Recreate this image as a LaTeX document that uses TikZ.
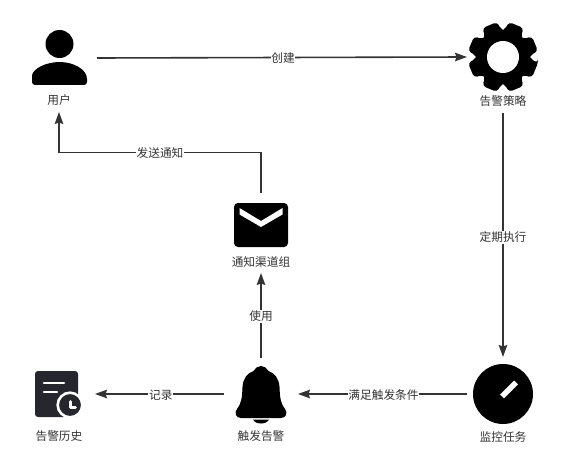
\documentclass[tikz,border=0pt]{standalone}
\usepackage{fontspec}
\setmainfont{Noto Sans CJK SC}
\usetikzlibrary{arrows.meta}
\definecolor{ink}{HTML}{333333}
\definecolor{histcol}{HTML}{26262F}
\tikzset{
  iconbox/.style={inner sep=0pt,outer sep=0pt,minimum width=#1},
  iconbox/.default=72pt,
  caption/.style={inner sep=0pt,outer sep=0pt,text=ink,font=\fontsize{11.7}{14}\selectfont,minimum height=24pt},
  edgetext/.style={fill=white,inner sep=0.6pt,text=ink,yshift=-1pt,font=\fontsize{11.7}{14}\selectfont},
  link/.style={draw=ink,line width=1.6pt,-{Stealth[length=12pt,width=8.5pt,inset=1.5pt]}}
}
\begin{document}
\begin{tikzpicture}[x=1pt,y=-1pt]
\useasboundingbox (0,0) rectangle (579,460);
% icon frames
\node[iconbox=75pt,minimum height=58pt] (user) at (59.5,58) {};
\node[iconbox=72pt,minimum height=72pt] (gear) at (503,57) {};
\node[iconbox=72pt,minimum height=74pt] (monitor) at (503,394) {};
\node[iconbox=74pt,minimum height=72pt] (bell) at (261,394) {};
\node[iconbox=76pt,minimum height=60pt] (hist) at (57,394) {};
\node[iconbox=60pt,minimum height=64pt] (env) at (261,225) {};
% captions
\node[caption] (userlab) at (59,100) {用户};
\node[caption] (gearlab) at (503,101) {告警策略};
\node[caption] (monlab) at (503,437) {监控任务};
\node[caption] (belllab) at (261,436) {触发告警};
\node[caption] (histlab) at (59,436) {告警历史};
\node[caption,minimum height=22pt] (envlab) at (261,262) {通知渠道组};
\coordinate (corner) at (59,152.5);
% connectors
\draw[link] (user.east) -- node[edgetext,xshift=1pt] (t1) {创建} (gear.west);
\draw[link] (gearlab.south) -- node[edgetext,yshift=-1.5pt] (t2) {定期执行} (monitor.north);
\draw[link] (monitor.west) -- node[edgetext,xshift=1pt] (t3) {满足触发条件} (bell.east);
\draw[link] (bell.west) -- node[edgetext,pos=.49] (t4) {记录} (hist.east);
\draw[link] (bell.north) -- node[edgetext] (t5) {使用} (envlab.south);
\draw[link] (env.north) -- (env.north |- corner) -- node[edgetext,pos=.5] (t6) {发送通知} (corner) -- (userlab.south);
% user
\fill (59.5,44) circle[radius=14];
\fill (32,85) [rounded corners=3] -- (32,79) [sharp corners] .. controls (32,69) and (46,62) .. (59.5,62) .. controls (73,62) and (87,69) .. (87,79) [rounded corners=3] -- (87,85) -- cycle;
% gear
\fill[even odd rule,rounded corners=3.5]
  ([shift={(503,57)}]9.5:35.5)
  foreach \a in {22.5,67.5,...,337.5} {
    -- ([shift={(503,57)}]\a-13:35.5)
    -- ([shift={(503,57)}]\a+13:35.5)
    -- ([shift={(503,57)}]\a+19:27)
    -- ([shift={(503,57)}]\a+26:27)
  } -- cycle;
\fill[white] (503,57) circle[radius=16];
% monitor
\fill (503,394) circle[radius=30];
\draw[white,line width=5.5pt] (502,396.5) -- (516,382.5);
% bell
\fill (261,366) .. controls (264,366) and (267,368) .. (268.5,371)
  .. controls (275,373) and (279,379) .. (279.5,387)
  .. controls (280,397) and (280,402) .. (285,409)
  .. controls (288,413) and (286,418) .. (281,418)
  -- (241,418)
  .. controls (236,418) and (234,413) .. (237,409)
  .. controls (242,402) and (242,397) .. (242.5,387)
  .. controls (243,379) and (247,373) .. (253.5,371)
  .. controls (255,368) and (258,366) .. (261,366) -- cycle;
\fill (253,419.5) -- (269,419.5) .. controls (268,422) and (264.5,423.5) .. (261,423.5) .. controls (257.5,423.5) and (254,422) .. (253,419.5) -- cycle;
% history
\fill[histcol,rounded corners=3] (35,371) rectangle (78,417);
\draw[white,line width=2.6pt,line cap=round] (44,383) -- (64,383);
\draw[white,line width=2.6pt,line cap=round] (44,392) -- (57,392);
\fill[histcol,draw=white,line width=2.6pt] (70,405) circle[radius=12.3];
\draw[white,line width=2.6pt,line cap=round,line join=round] (70.5,401.5) -- (70.5,407.5) -- (75.5,407.5);
% envelope
\fill[rounded corners=4] (234,203) rectangle (288,247);
\fill[white] (239.5,208) -- (261,221) -- (282.5,208) -- (282.5,214.5) -- (261,227) -- (239.5,214.5) -- cycle;
\end{tikzpicture}
\end{document}
